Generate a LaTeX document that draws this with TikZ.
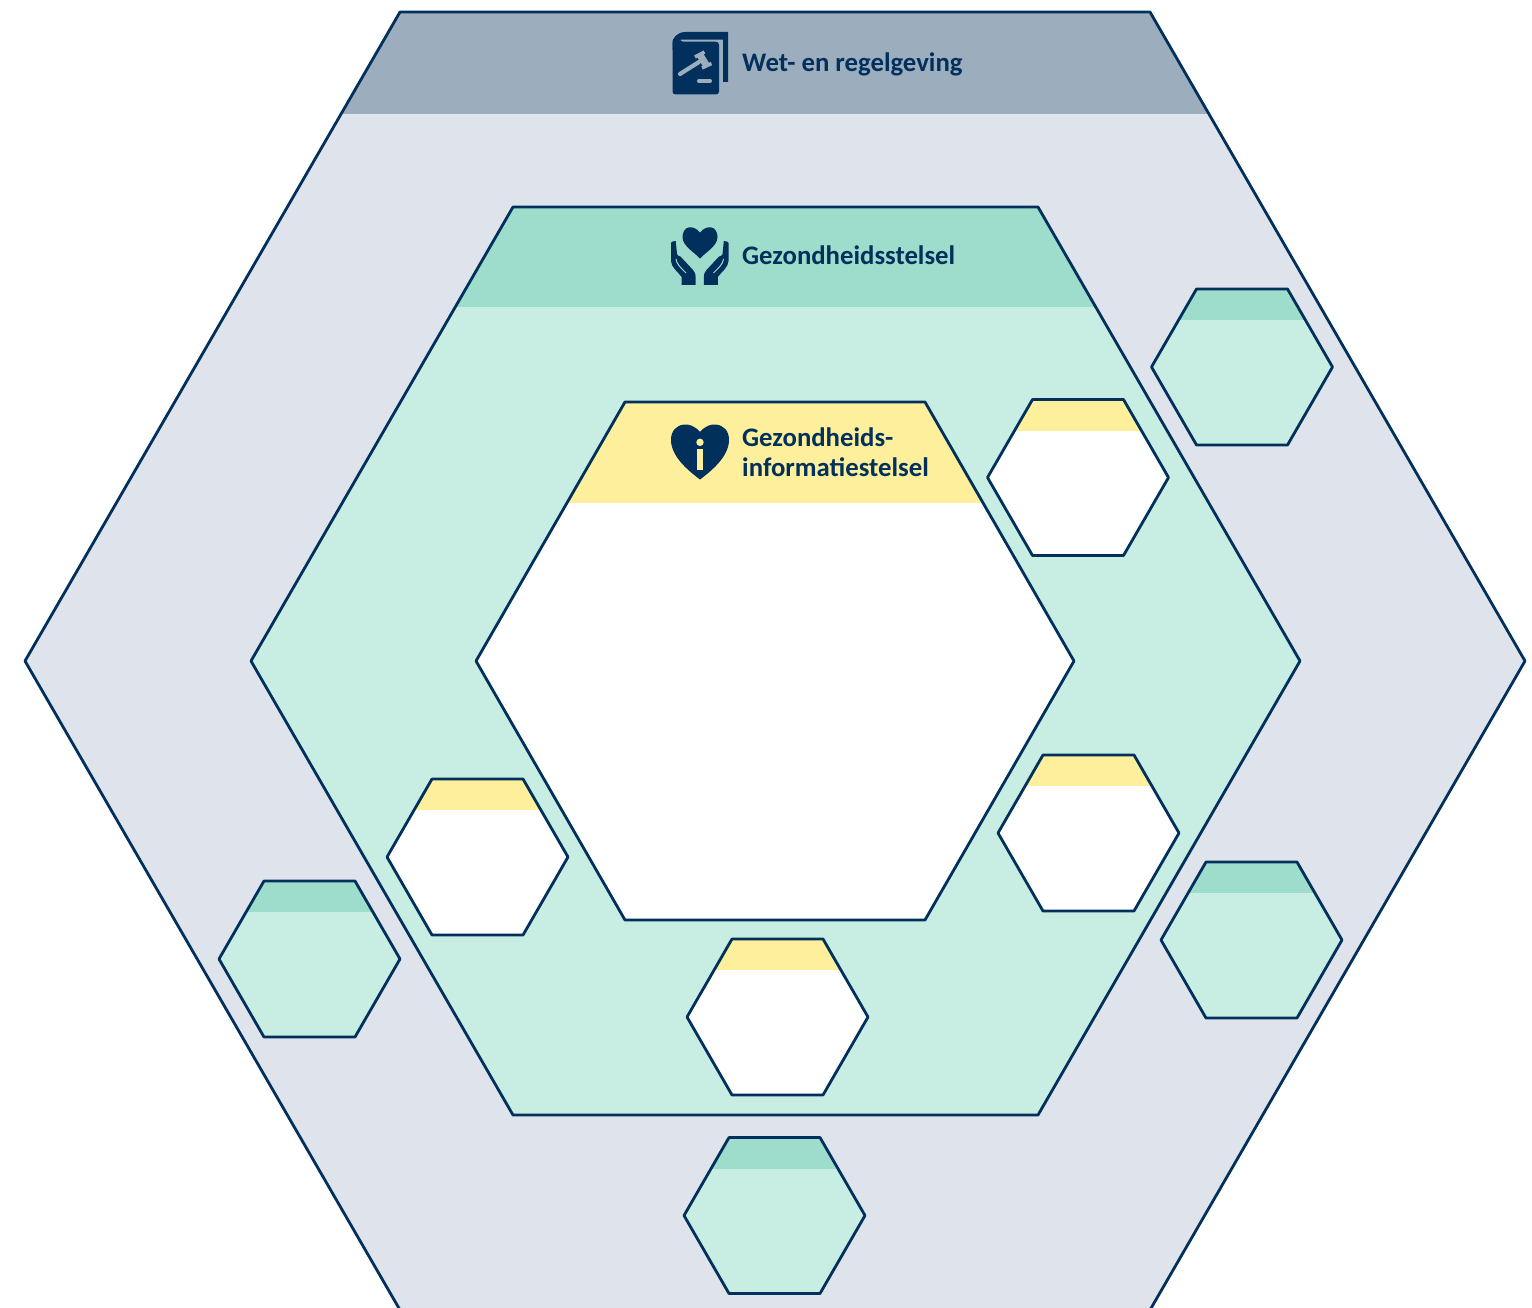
\documentclass[tikz,border=0pt]{standalone}
\usepackage{fontspec}
\setmainfont{Carlito}
\definecolor{ink}{HTML}{01305C}
\definecolor{outerfill}{HTML}{DFE3EB}
\definecolor{outerband}{HTML}{9CADBD}
\definecolor{midfill}{HTML}{C8EEE3}
\definecolor{midband}{HTML}{9EDDCB}
\definecolor{yellowband}{HTML}{FDEF9B}
\tikzset{
  outline/.style={draw=ink,line width=2.8pt,line join=round},
  title/.style={anchor=base west,inner sep=0pt,text=ink,font=\bfseries\fontsize{26.75}{30}\selectfont,align=left},
}
% #1 L, #2 TL, #3 TR, #4 R, #5 T, #6 B
\newcommand\hexpath[6]{(#1,{(#5+#6)/2}) -- (#2,#5) -- (#3,#5) -- (#4,{(#5+#6)/2}) -- (#3,#6) -- (#2,#6) -- cycle}
% #1-#6 geometry, #7 fill, #8 band colour, #9 band bottom
\newcommand\bandhex[9]{%
  \fill[#7] \hexpath{#1}{#2}{#3}{#4}{#5}{#6};
  \begin{scope}
    \clip \hexpath{#1}{#2}{#3}{#4}{#5}{#6};
    \fill[#8] (0,#5) rectangle (1532,#9);
  \end{scope}
  \path[outline] \hexpath{#1}{#2}{#3}{#4}{#5}{#6};
}
% #1 cx, #2 cy, #3 fill, #4 band
\newcommand\smallhex[4]{%
  \pgfmathsetmacro\hxa{#1-90.5}%
  \pgfmathsetmacro\hxb{#1-45.5}%
  \pgfmathsetmacro\hxc{#1+45.5}%
  \pgfmathsetmacro\hxd{#1+90.5}%
  \pgfmathsetmacro\hya{#2-78}%
  \pgfmathsetmacro\hyb{#2+78}%
  \pgfmathsetmacro\hyc{#2-47}%
  \bandhex{\hxa}{\hxb}{\hxc}{\hxd}{\hya}{\hyb}{#3}{#4}{\hyc}
}
\newcommand\handshape{%
  \fill[ink] (671,243) .. controls (671,242) and (673,241) .. (675.7,241) -- (677,254) .. controls (677.5,256) and (679,256) .. (680.5,256.5) -- (693,270) .. controls (695,272.5) and (695.7,274) .. (695.7,277) -- (695.7,285) -- (681.7,285) -- (681.7,277) .. controls (678,272) and (671,267) .. (671,261) -- cycle;
  \draw[midband,line width=1pt] (676,259) .. controls (676.5,264) and (681,268) .. (686,273);
}
\begin{document}
\begin{tikzpicture}[x=1pt,y=-1pt]
\useasboundingbox (0,0) rectangle (1532,1308);
\clip (0,0) rectangle (1532,1308);
\fill[white] (0,0) rectangle (1532,1308);
% outer, middle, inner hexagons
\bandhex{25}{400}{1150}{1525}{12}{1310}{outerfill}{outerband}{114}
\bandhex{251}{513}{1038}{1300}{207}{1115}{midfill}{midband}{307}
\bandhex{476}{625}{925}{1074}{402}{920}{white}{yellowband}{503}
% small hexagons
\smallhex{1242}{367}{midfill}{midband}
\smallhex{1251.5}{940}{midfill}{midband}
\smallhex{774.5}{1215.5}{midfill}{midband}
\smallhex{309.5}{959}{midfill}{midband}
\smallhex{1078}{477.5}{white}{yellowband}
\smallhex{1088.5}{833}{white}{yellowband}
\smallhex{777.5}{1017}{white}{yellowband}
\smallhex{477.5}{857}{white}{yellowband}
% titles
\node[title] (wet) at (742,71.5) {Wet- en regelgeving};
\node[title] (stelsel) at (742,264.5) {Gezondheidsstelsel};
\node[title] (info1) at (742,446.5) {Gezondheids-};
\node[title] (info2) at (742,476) {informatiestelsel};
% book icon
\fill[ink,rounded corners=3pt] (672.5,38) -- (672.5,94.5) -- (719,94.5) -- (719,41.7) -- (680,41.7) -- (680,38) -- cycle;
\fill[ink] (672.5,46) .. controls (672.5,37) and (677,32) .. (686,32) -- (728,32) -- (728,82) -- (723,82) -- (723,39.7) -- (681,39.7) .. controls (677,39.7) and (674,42) .. (674,50) -- (672.5,50) -- cycle;
\draw[outerband,line width=4.2pt,line cap=round] (680,74) -- (699,62);
\draw[outerband,line width=7pt] (699.7,54.5) -- (706.7,65.8);
\draw[outerband,line width=3.5pt] (695,57) -- (704.5,52);
\draw[outerband,line width=3.5pt] (702,68) -- (711.5,63.5);
\draw[outerband,line width=3.4pt,line cap=round] (698.7,81) -- (710.3,81);
% hands and heart icon
\fill[ink] (700,232.7) .. controls (696.5,228) and (692,226.8) .. (689,227.3) .. controls (685,228) and (682.5,232) .. (682.5,237) .. controls (682.5,246) and (694,252) .. (700,258.5) .. controls (706,252) and (717.5,246) .. (717.5,237) .. controls (717.5,232) and (715,228) .. (711,227.3) .. controls (708,226.8) and (703.5,228) .. (700,232.7) -- cycle;
\handshape
\begin{scope}[xshift=1399.5pt,xscale=-1]
  \handshape
\end{scope}
% info heart icon
\fill[ink] (700,432) .. controls (695,426) and (689,424) .. (684,424.5) .. controls (676,425.5) and (671,431) .. (671,440) .. controls (671,457) and (690,472) .. (700,479.5) .. controls (710,472) and (729,457) .. (729,440) .. controls (729,431) and (724,425.5) .. (716,424.5) .. controls (711,424) and (705,426) .. (700,432) -- cycle;
\fill[yellowband] (700,442.3) circle (3.7pt);
\fill[yellowband] (697,448.5) rectangle (703.2,470);
\end{tikzpicture}
\end{document}
